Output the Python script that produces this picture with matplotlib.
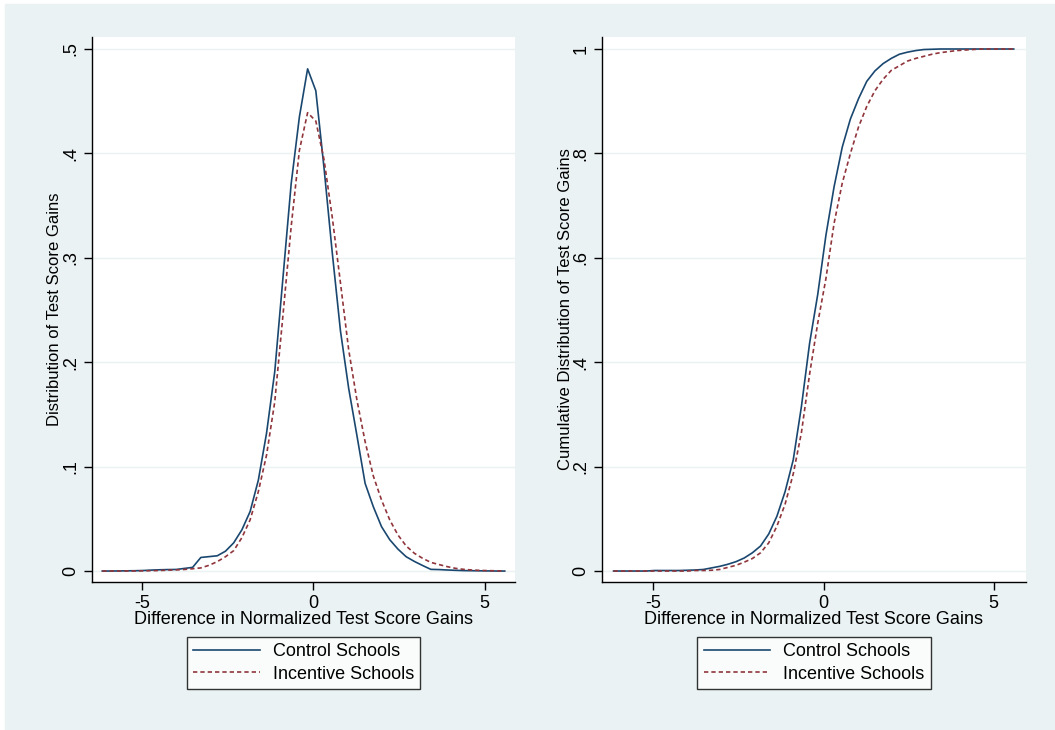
import numpy as np
import matplotlib
matplotlib.use("Agg")
import matplotlib.pyplot as plt

# === Données (grille kdensity, 50 points) ===
x_grid = [-6.17, -5.93, -5.69, -5.45, -5.21, -4.97, -4.73, -4.49, -4.25, -4.01,
          -3.77, -3.53, -3.29, -3.05, -2.81, -2.57, -2.33, -2.09, -1.85, -1.61,
          -1.37, -1.13, -0.89, -0.65, -0.41, -0.17, 0.07, 0.31, 0.55, 0.79,
          1.03, 1.27, 1.51, 1.75, 1.99, 2.23, 2.47, 2.71, 2.95, 3.19,
          3.43, 3.67, 3.91, 4.15, 4.39, 4.63, 4.87, 5.11, 5.35, 5.59]

dens_control = [0.0000, 0.0000, 0.0001, 0.0002, 0.0003, 0.0005, 0.0009, 0.0012, 0.0014, 0.0015,
                0.0025, 0.0035, 0.0130, 0.0138, 0.0146, 0.0190, 0.0270, 0.0395, 0.0570, 0.0870,
                0.1320, 0.1910, 0.2810, 0.3710, 0.4350, 0.4810, 0.4600, 0.3860, 0.3050, 0.2300,
                0.1750, 0.1300, 0.0840, 0.0616, 0.0425, 0.0300, 0.0210, 0.0137, 0.0092, 0.0053,
                0.0016, 0.0014, 0.0010, 0.0007, 0.0004, 0.0003, 0.0002, 0.0001, 0.0000, 0.0000]

dens_incentive = [0.0000, 0.0000, 0.0000, 0.0001, 0.0001, 0.0002, 0.0003, 0.0005, 0.0008, 0.0011,
                  0.0015, 0.0022, 0.0030, 0.0055, 0.0090, 0.0137, 0.0195, 0.0320, 0.0490, 0.0760,
                  0.1110, 0.1620, 0.2450, 0.3300, 0.4030, 0.4390, 0.4310, 0.3940, 0.3390, 0.2760,
                  0.2120, 0.1640, 0.1240, 0.0910, 0.0680, 0.0490, 0.0345, 0.0240, 0.0170, 0.0122,
                  0.0083, 0.0062, 0.0042, 0.0026, 0.0016, 0.0010, 0.0006, 0.0004, 0.0002, 0.0001]

cdf_control = [0.000, 0.000, 0.000, 0.000, 0.000, 0.001, 0.001, 0.001, 0.001, 0.0015,
               0.002, 0.003, 0.006, 0.009, 0.013, 0.018, 0.025, 0.035, 0.048, 0.071,
               0.105, 0.152, 0.213, 0.315, 0.436, 0.530, 0.643, 0.736, 0.812, 0.866,
               0.905, 0.938, 0.958, 0.972, 0.982, 0.990, 0.994, 0.997, 0.999, 0.9995,
               1.000, 1.000, 1.000, 1.000, 1.000, 1.000, 1.000, 1.000, 1.000, 1.000]

cdf_incentive = [0.000, 0.000, 0.000, 0.000, 0.000, 0.000, 0.000, 0.000, 0.000, 0.000,
                 0.001, 0.001, 0.0015, 0.003, 0.007, 0.011, 0.017, 0.024, 0.035, 0.054,
                 0.086, 0.128, 0.186, 0.265, 0.377, 0.475, 0.560, 0.666, 0.743, 0.800,
                 0.851, 0.890, 0.920, 0.942, 0.959, 0.968, 0.977, 0.982, 0.986, 0.990,
                 0.993, 0.995, 0.997, 0.998, 0.999, 1.000, 1.000, 1.000, 1.000, 1.000]

labels = ["Control Schools", "Incentive Schools"]
x_ticks = [-5, 0, 5]
dens_ticks = [0, 0.1, 0.2, 0.3, 0.4, 0.5]
dens_ticklabels = ["0", ".1", ".2", ".3", ".4", ".5"]
cdf_ticks = [0, 0.2, 0.4, 0.6, 0.8, 1.0]
cdf_ticklabels = ["0", ".2", ".4", ".6", ".8", "1"]

# === Style ===
plt.rcParams["font.family"] = ["Liberation Sans", "DejaVu Sans"]
bg = "#eaf2f3"
navy = "#1a476f"
maroon = "#90353b"

fig = plt.figure(figsize=(10.55, 7.3), dpi=100)
fig.patches.append(plt.Rectangle((5 / 1055, 0), 1, 1 - 4 / 730,
                                 transform=fig.transFigure, color=bg, zorder=-10))

W, H = 1055, 730
ax1 = fig.add_axes([92 / W, 1 - 582 / H, (515 - 92) / W, (582 - 37) / H])
ax2 = fig.add_axes([602 / W, 1 - 582 / H, (1026 - 602) / W, (582 - 37) / H])


def style_axes(ax, yticks, yticklabels, ylabel):
    ax.set_facecolor("white")
    for s in ["top", "right"]:
        ax.spines[s].set_visible(False)
    for s in ["left", "bottom"]:
        ax.spines[s].set_color("black")
        ax.spines[s].set_linewidth(1.0)
    ax.set_xticks(x_ticks)
    ax.set_xticklabels([str(t) for t in x_ticks], fontsize=13)
    ax.set_yticks(yticks)
    ax.set_yticklabels(yticklabels, fontsize=13, rotation=90, va="center")
    ax.tick_params(length=6, width=1.0, colors="black")
    ax.tick_params(axis="x", pad=3)
    ax.tick_params(axis="y", pad=3)
    ax.grid(axis="y", color=bg, linewidth=1.0)
    ax.set_axisbelow(True)
    ax.set_xlabel("Difference in Normalized Test Score Gains", fontsize=13, labelpad=0)
    ax.set_ylabel(ylabel, fontsize=12, labelpad=0)
    leg = ax.legend(loc="upper center", bbox_to_anchor=(0.5, -0.101), ncol=1,
                    frameon=True, fancybox=False, fontsize=13, handlelength=3.7,
                    borderpad=0.35, labelspacing=0.3, handletextpad=0.7,
                    borderaxespad=0)
    leg.get_frame().set_edgecolor("black")
    leg.get_frame().set_linewidth(1.0)


ax1.plot(x_grid, dens_control, color=navy, lw=1.2, label=labels[0])
ax1.plot(x_grid, dens_incentive, color=maroon, lw=1.2, ls=(0, (2.6, 1.8)), label=labels[1])
ax1.set_xlim(-6.47, 5.89)
ax1.set_ylim(-0.0105, 0.5115)
style_axes(ax1, dens_ticks, dens_ticklabels, "Distribution of Test Score Gains")

ax2.plot(x_grid, cdf_control, color=navy, lw=1.2, label=labels[0])
ax2.plot(x_grid, cdf_incentive, color=maroon, lw=1.2, ls=(0, (2.6, 1.8)), label=labels[1])
ax2.set_xlim(-6.51, 5.95)
ax2.set_ylim(-0.021, 1.023)
style_axes(ax2, cdf_ticks, cdf_ticklabels, "Cumulative Distribution of Test Score Gains")

fig.savefig("out.png", dpi=100, facecolor="white")
